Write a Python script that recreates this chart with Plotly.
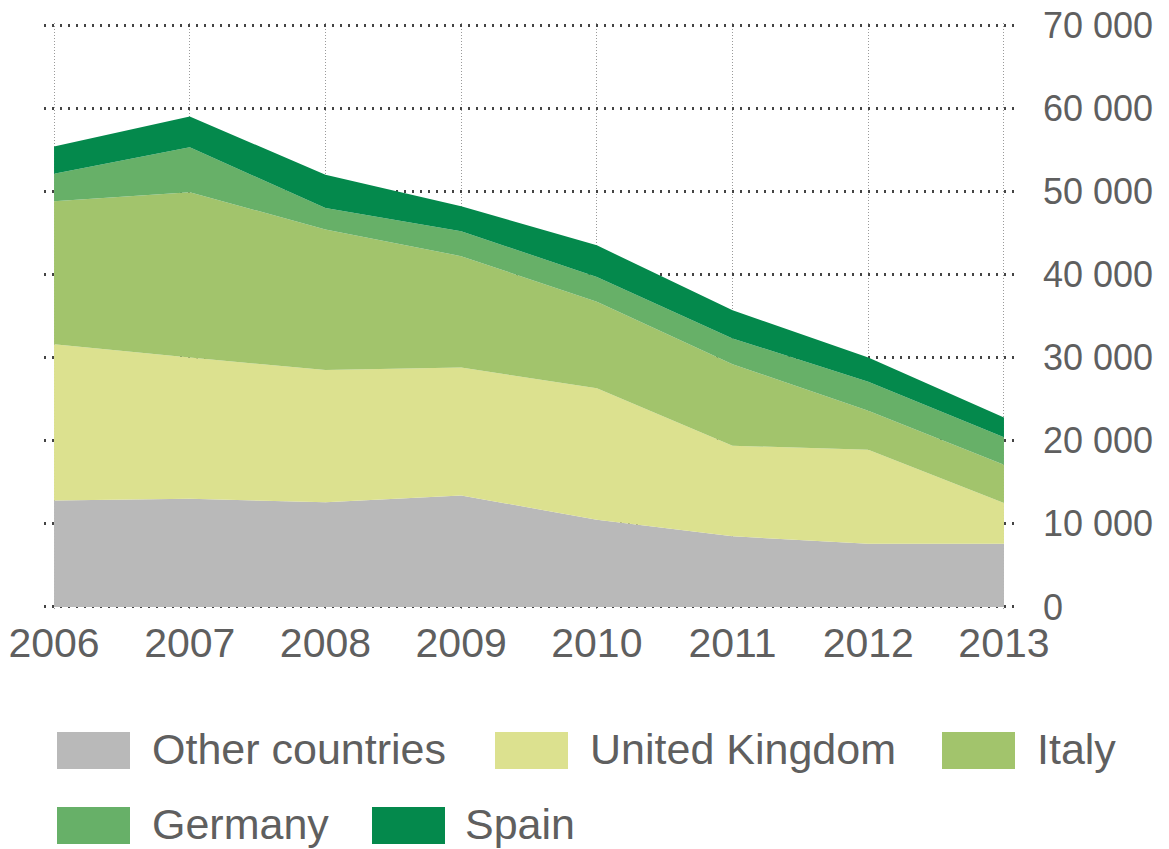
import plotly.graph_objects as go

# ---------------- data ----------------
years = [2006, 2007, 2008, 2009, 2010, 2011, 2012, 2013]
other_countries = [12800, 13000, 12600, 13400, 10500, 8500, 7600, 7600]
united_kingdom = [18800, 17000, 15900, 15400, 15800, 10900, 11300, 4900]
italy = [17200, 19900, 16900, 13400, 10400, 9800, 4700, 4600]
germany = [3300, 5400, 2600, 3000, 3000, 3100, 3500, 3300]
spain = [3300, 3700, 4000, 3000, 3800, 3400, 2900, 2400]

series_names = ["Other countries", "United Kingdom", "Italy", "Germany", "Spain"]
series_values = [other_countries, united_kingdom, italy, germany, spain]
series_colors = ["#b9b9b9", "#dce18f", "#a2c46c", "#67b068", "#04894c"]

y_tick_values = [0, 10000, 20000, 30000, 40000, 50000, 60000, 70000]
y_tick_labels = ["0", "10 000", "20 000", "30 000", "40 000", "50 000", "60 000", "70 000"]
x_tick_labels = [str(y) for y in years]

# ---------------- layout geometry (pixels) ----------------
W, H = 1169, 849
L, R, T, B = 44, 152, 23, 240
PW, PH = W - L - R, H - T - B
TEXT = "#5f5f5f"
FONT = "Liberation Sans, Arial, sans-serif"


def px_x(x):
    return (x - L) / PW


def px_y(y):
    return (H - B - y) / PH


fig = go.Figure()
for name, vals, col in zip(series_names, series_values, series_colors):
    fig.add_trace(go.Scatter(
        x=years, y=vals, name=name, mode="lines",
        stackgroup="one", line=dict(width=0, color=col),
        fillcolor=col, showlegend=False, hoverinfo="x+y+name",
    ))

# custom legend (swatches + labels)
legend_items = [
    (0, 57, 732, 150), (1, 495, 732, 588), (2, 942, 732, 1035),
    (3, 57, 807, 150), (4, 372, 807, 463),
]
shapes = []
annotations = []
for idx, sx, sy, tx in legend_items:
    shapes.append(dict(
        type="rect", xref="paper", yref="paper",
        x0=px_x(sx), x1=px_x(sx + 73), y0=px_y(sy), y1=px_y(sy + 37),
        fillcolor=series_colors[idx], line=dict(width=0), layer="above",
    ))
    annotations.append(dict(
        xref="paper", yref="paper", x=px_x(tx), y=px_y(sy + 17),
        xanchor="left", yanchor="middle", text=series_names[idx],
        showarrow=False, font=dict(family=FONT, size=43, color=TEXT),
    ))

fig.update_layout(
    width=W, height=H,
    margin=dict(l=L, r=R, t=T, b=B, pad=0, autoexpand=False),
    paper_bgcolor="white", plot_bgcolor="white",
    showlegend=False,
    shapes=shapes, annotations=annotations,
    font=dict(family=FONT, color=TEXT),
    xaxis=dict(
        range=[2005.926, 2013.096],
        tickvals=years, ticktext=x_tick_labels,
        tickfont=dict(family=FONT, size=41, color=TEXT),
        showgrid=True, gridcolor="#9a9a9a", gridwidth=1, griddash="1px,2px",
        zeroline=False, showline=False, ticks="",
        ticklabelstandoff=6, automargin=False,
    ),
    yaxis=dict(
        range=[-250, 70250], side="right",
        tickvals=y_tick_values, ticktext=y_tick_labels,
        tickfont=dict(family=FONT, size=36, color=TEXT),
        showgrid=True, gridcolor="#444444", gridwidth=2.5, griddash="2px,6px",
        zeroline=False, showline=False, ticks="",
        ticklabelstandoff=25, automargin=False,
    ),
)

fig.write_html(
    "out.html",
    config={"displayModeBar": False},
    post_script="document.body.style.margin='0';document.body.style.padding='0';",
)
